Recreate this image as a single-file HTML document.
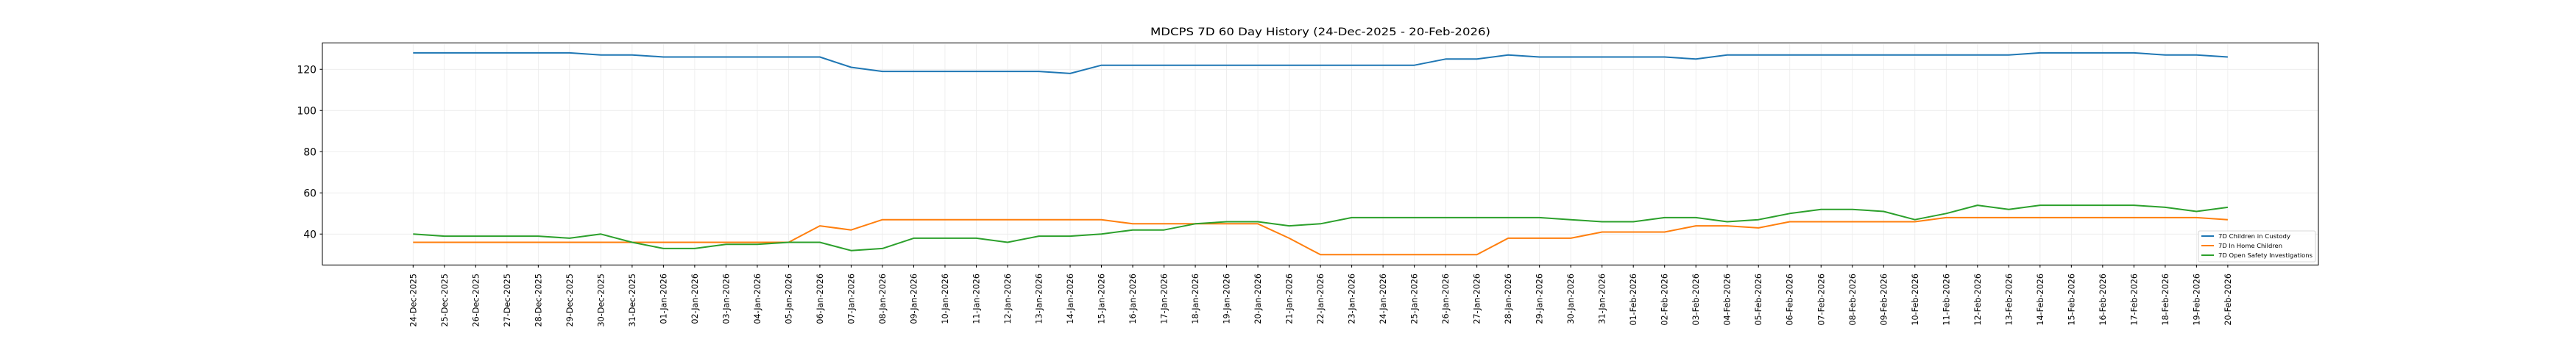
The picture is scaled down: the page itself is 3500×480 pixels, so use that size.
<!DOCTYPE html>
<html><head><meta charset="utf-8"><style>html,body{margin:0;padding:0;background:#fff}svg{display:block}text{font-family:"DejaVu Sans","Liberation Sans",sans-serif;fill:#000}</style></head><body>
<svg width="3500" height="480" viewBox="0 0 3500 480" xmlns="http://www.w3.org/2000/svg">
<rect width="3500" height="480" fill="#fff"/>
<text x="1794" y="48" font-size="14.2" text-anchor="middle" textLength="462" lengthAdjust="spacingAndGlyphs">MDCPS 7D 60 Day History (24-Dec-2025 - 20-Feb-2026)</text>
<g transform="translate(561.3,430.3) scale(42.51,-2.8)" fill="none">
<g stroke="#ebebeb" stroke-width="0.8" vector-effect="non-scaling-stroke">
<path vector-effect="non-scaling-stroke" d="M-2.9,40H60.9M-2.9,60H60.9M-2.9,80H60.9M-2.9,100H60.9M-2.9,120H60.9"/>
<path vector-effect="non-scaling-stroke" d="M0,25V132.1M1,25V132.1M2,25V132.1M3,25V132.1M4,25V132.1M5,25V132.1M6,25V132.1M7,25V132.1M8,25V132.1M9,25V132.1M10,25V132.1M11,25V132.1M12,25V132.1M13,25V132.1M14,25V132.1M15,25V132.1M16,25V132.1M17,25V132.1M18,25V132.1M19,25V132.1M20,25V132.1M21,25V132.1M22,25V132.1M23,25V132.1M24,25V132.1M25,25V132.1M26,25V132.1M27,25V132.1M28,25V132.1M29,25V132.1M30,25V132.1M31,25V132.1M32,25V132.1M33,25V132.1M34,25V132.1M35,25V132.1M36,25V132.1M37,25V132.1M38,25V132.1M39,25V132.1M40,25V132.1M41,25V132.1M42,25V132.1M43,25V132.1M44,25V132.1M45,25V132.1M46,25V132.1M47,25V132.1M48,25V132.1M49,25V132.1M50,25V132.1M51,25V132.1M52,25V132.1M53,25V132.1M54,25V132.1M55,25V132.1M56,25V132.1M57,25V132.1M58,25V132.1"/>
</g>
<polyline vector-effect="non-scaling-stroke" stroke="#1f77b4" stroke-width="2" stroke-linejoin="round" points="0,128 1,128 2,128 3,128 4,128 5,128 6,127 7,127 8,126 9,126 10,126 11,126 12,126 13,126 14,121 15,119 16,119 17,119 18,119 19,119 20,119 21,118 22,122 23,122 24,122 25,122 26,122 27,122 28,122 29,122 30,122 31,122 32,122 33,125 34,125 35,127 36,126 37,126 38,126 39,126 40,126 41,125 42,127 43,127 44,127 45,127 46,127 47,127 48,127 49,127 50,127 51,127 52,128 53,128 54,128 55,128 56,127 57,127 58,126"/>
<polyline vector-effect="non-scaling-stroke" stroke="#ff7f0e" stroke-width="2" stroke-linejoin="round" points="0,36 1,36 2,36 3,36 4,36 5,36 6,36 7,36 8,36 9,36 10,36 11,36 12,36 13,44 14,42 15,47 16,47 17,47 18,47 19,47 20,47 21,47 22,47 23,45 24,45 25,45 26,45 27,45 28,38 29,30 30,30 31,30 32,30 33,30 34,30 35,38 36,38 37,38 38,41 39,41 40,41 41,44 42,44 43,43 44,46 45,46 46,46 47,46 48,46 49,48 50,48 51,48 52,48 53,48 54,48 55,48 56,48 57,48 58,47"/>
<polyline vector-effect="non-scaling-stroke" stroke="#2ca02c" stroke-width="2" stroke-linejoin="round" points="0,40 1,39 2,39 3,39 4,39 5,38 6,40 7,36 8,33 9,33 10,35 11,35 12,36 13,36 14,32 15,33 16,38 17,38 18,38 19,36 20,39 21,39 22,40 23,42 24,42 25,45 26,46 27,46 28,44 29,45 30,48 31,48 32,48 33,48 34,48 35,48 36,48 37,47 38,46 39,46 40,48 41,48 42,46 43,47 44,50 45,52 46,52 47,51 48,47 49,50 50,54 51,52 52,54 53,54 54,54 55,54 56,53 57,51 58,53"/>
<path vector-effect="non-scaling-stroke" stroke="#000" stroke-width="1" d="M0,25V23.75M1,25V23.75M2,25V23.75M3,25V23.75M4,25V23.75M5,25V23.75M6,25V23.75M7,25V23.75M8,25V23.75M9,25V23.75M10,25V23.75M11,25V23.75M12,25V23.75M13,25V23.75M14,25V23.75M15,25V23.75M16,25V23.75M17,25V23.75M18,25V23.75M19,25V23.75M20,25V23.75M21,25V23.75M22,25V23.75M23,25V23.75M24,25V23.75M25,25V23.75M26,25V23.75M27,25V23.75M28,25V23.75M29,25V23.75M30,25V23.75M31,25V23.75M32,25V23.75M33,25V23.75M34,25V23.75M35,25V23.75M36,25V23.75M37,25V23.75M38,25V23.75M39,25V23.75M40,25V23.75M41,25V23.75M42,25V23.75M43,25V23.75M44,25V23.75M45,25V23.75M46,25V23.75M47,25V23.75M48,25V23.75M49,25V23.75M50,25V23.75M51,25V23.75M52,25V23.75M53,25V23.75M54,25V23.75M55,25V23.75M56,25V23.75M57,25V23.75M58,25V23.75"/>
</g>
<rect x="438" y="58.3" width="2712" height="302" fill="none" stroke="#000" stroke-width="1"/>
<path stroke="#000" stroke-width="1" d="M434.5,94.3H438M434.5,150.3H438M434.5,206.3H438M434.5,262.3H438M434.5,318.3H438"/>
<g font-size="13.9" text-anchor="end">
<text x="430" y="99.3">120</text><text x="430" y="155.3">100</text><text x="430" y="211.3">80</text><text x="430" y="267.3">60</text><text x="430" y="323.3">40</text>
</g>
<g font-size="11.2" text-anchor="end">
<text transform="translate(565.3,372) rotate(-90)">24-Dec-2025</text>
<text transform="translate(607.8,372) rotate(-90)">25-Dec-2025</text>
<text transform="translate(650.3,372) rotate(-90)">26-Dec-2025</text>
<text transform="translate(692.8,372) rotate(-90)">27-Dec-2025</text>
<text transform="translate(735.3,372) rotate(-90)">28-Dec-2025</text>
<text transform="translate(777.9,372) rotate(-90)">29-Dec-2025</text>
<text transform="translate(820.4,372) rotate(-90)">30-Dec-2025</text>
<text transform="translate(862.9,372) rotate(-90)">31-Dec-2025</text>
<text transform="translate(905.4,372) rotate(-90)">01-Jan-2026</text>
<text transform="translate(947.9,372) rotate(-90)">02-Jan-2026</text>
<text transform="translate(990.4,372) rotate(-90)">03-Jan-2026</text>
<text transform="translate(1032.9,372) rotate(-90)">04-Jan-2026</text>
<text transform="translate(1075.4,372) rotate(-90)">05-Jan-2026</text>
<text transform="translate(1117.9,372) rotate(-90)">06-Jan-2026</text>
<text transform="translate(1160.4,372) rotate(-90)">07-Jan-2026</text>
<text transform="translate(1202.9,372) rotate(-90)">08-Jan-2026</text>
<text transform="translate(1245.5,372) rotate(-90)">09-Jan-2026</text>
<text transform="translate(1288.0,372) rotate(-90)">10-Jan-2026</text>
<text transform="translate(1330.5,372) rotate(-90)">11-Jan-2026</text>
<text transform="translate(1373.0,372) rotate(-90)">12-Jan-2026</text>
<text transform="translate(1415.5,372) rotate(-90)">13-Jan-2026</text>
<text transform="translate(1458.0,372) rotate(-90)">14-Jan-2026</text>
<text transform="translate(1500.5,372) rotate(-90)">15-Jan-2026</text>
<text transform="translate(1543.0,372) rotate(-90)">16-Jan-2026</text>
<text transform="translate(1585.5,372) rotate(-90)">17-Jan-2026</text>
<text transform="translate(1628.1,372) rotate(-90)">18-Jan-2026</text>
<text transform="translate(1670.6,372) rotate(-90)">19-Jan-2026</text>
<text transform="translate(1713.1,372) rotate(-90)">20-Jan-2026</text>
<text transform="translate(1755.6,372) rotate(-90)">21-Jan-2026</text>
<text transform="translate(1798.1,372) rotate(-90)">22-Jan-2026</text>
<text transform="translate(1840.6,372) rotate(-90)">23-Jan-2026</text>
<text transform="translate(1883.1,372) rotate(-90)">24-Jan-2026</text>
<text transform="translate(1925.6,372) rotate(-90)">25-Jan-2026</text>
<text transform="translate(1968.1,372) rotate(-90)">26-Jan-2026</text>
<text transform="translate(2010.6,372) rotate(-90)">27-Jan-2026</text>
<text transform="translate(2053.2,372) rotate(-90)">28-Jan-2026</text>
<text transform="translate(2095.7,372) rotate(-90)">29-Jan-2026</text>
<text transform="translate(2138.2,372) rotate(-90)">30-Jan-2026</text>
<text transform="translate(2180.7,372) rotate(-90)">31-Jan-2026</text>
<text transform="translate(2223.2,372) rotate(-90)">01-Feb-2026</text>
<text transform="translate(2265.7,372) rotate(-90)">02-Feb-2026</text>
<text transform="translate(2308.2,372) rotate(-90)">03-Feb-2026</text>
<text transform="translate(2350.7,372) rotate(-90)">04-Feb-2026</text>
<text transform="translate(2393.2,372) rotate(-90)">05-Feb-2026</text>
<text transform="translate(2435.7,372) rotate(-90)">06-Feb-2026</text>
<text transform="translate(2478.3,372) rotate(-90)">07-Feb-2026</text>
<text transform="translate(2520.8,372) rotate(-90)">08-Feb-2026</text>
<text transform="translate(2563.3,372) rotate(-90)">09-Feb-2026</text>
<text transform="translate(2605.8,372) rotate(-90)">10-Feb-2026</text>
<text transform="translate(2648.3,372) rotate(-90)">11-Feb-2026</text>
<text transform="translate(2690.8,372) rotate(-90)">12-Feb-2026</text>
<text transform="translate(2733.3,372) rotate(-90)">13-Feb-2026</text>
<text transform="translate(2775.8,372) rotate(-90)">14-Feb-2026</text>
<text transform="translate(2818.3,372) rotate(-90)">15-Feb-2026</text>
<text transform="translate(2860.8,372) rotate(-90)">16-Feb-2026</text>
<text transform="translate(2903.4,372) rotate(-90)">17-Feb-2026</text>
<text transform="translate(2945.9,372) rotate(-90)">18-Feb-2026</text>
<text transform="translate(2988.4,372) rotate(-90)">19-Feb-2026</text>
<text transform="translate(3030.9,372) rotate(-90)">20-Feb-2026</text>
</g>
<rect x="2987" y="314" width="159" height="42" rx="2" fill="#fff" fill-opacity="0.8" stroke="#ccc" stroke-width="0.8"/>
<path stroke="#1f77b4" stroke-width="2" d="M2991,321H3008"/>
<path stroke="#ff7f0e" stroke-width="2" d="M2991,334H3008"/>
<path stroke="#2ca02c" stroke-width="2" d="M2991,347H3008"/>
<g font-size="8">
<text x="3014" y="324" textLength="98" lengthAdjust="spacingAndGlyphs">7D Children in Custody</text>
<text x="3014" y="337" textLength="87" lengthAdjust="spacingAndGlyphs">7D In Home Children</text>
<text x="3014" y="350" textLength="128" lengthAdjust="spacingAndGlyphs">7D Open Safety Investigations</text>
</g>
</svg>
</body></html>
